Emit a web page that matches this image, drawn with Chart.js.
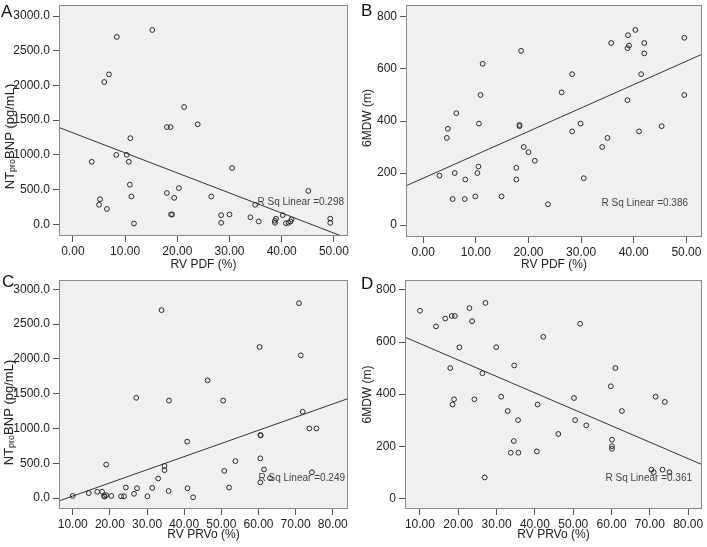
<!DOCTYPE html>
<html>
<head>
<meta charset="utf-8">
<script src="https://cdn.jsdelivr.net/npm/chart.js@4.4.0/dist/chart.umd.min.js"></script>
<style>
  body { margin: 0; background: #fff; width: 707px; height: 547px; position: relative; overflow: hidden; }
  canvas { position: absolute; }
  .letter { position: absolute; font: 17px/17px "Liberation Sans", Arial, sans-serif; color: #111; }
</style>
</head>
<body>
<canvas id="chartA" width="353" height="273" style="left:0;top:0"></canvas>
<canvas id="chartB" width="354" height="273" style="left:353px;top:0"></canvas>
<canvas id="chartC" width="353" height="274" style="left:0;top:273px"></canvas>
<canvas id="chartD" width="354" height="274" style="left:353px;top:273px"></canvas>
<div class="letter" style="left:1px;top:3px">A</div>
<div class="letter" style="left:361px;top:2px">B</div>
<div class="letter" style="left:2px;top:273px">C</div>
<div class="letter" style="left:361px;top:275px">D</div>
<script>
// A: RV PDF (%) vs NT-proBNP
const pdfA = [15.2, 8.4, 6.9, 6.0, 21.3, 23.9, 18.0, 18.7, 11.0, 8.3, 10.3, 3.6, 10.7, 30.5, 10.9,
    20.3, 18.0, 45.1, 5.2, 11.2, 19.4, 26.5, 5.0, 6.5, 34.9, 18.8, 19.0, 28.4, 30.0, 34.0, 35.6,
    28.4, 11.7, 38.9, 38.7, 38.7, 40.2, 40.8, 41.3, 41.7, 41.9, 49.3, 49.3];
const bnpA = [2800, 2700, 2160, 2050, 1690, 1440, 1400, 1400, 1240, 1000, 1000, 900, 900, 810, 570,
    520, 450, 480, 360, 400, 380, 400, 280, 220, 280, 140, 140, 130, 140, 100, 40,
    20, 10, 80, 50, 20, 130, 15, 20, 40, 70, 80, 20];

// B: RV PDF (%) vs 6MWD
const pdfB = [18.6, 11.3, 10.9, 6.3, 10.6, 18.3, 18.3, 4.7, 4.5, 19.1, 20.0, 21.2, 10.5, 17.7, 3.1,
    6.0, 10.3, 8.0, 17.7, 5.6, 7.9, 9.9, 14.9, 23.7, 40.3, 38.9, 49.6, 35.7, 42.0, 39.1, 38.8,
    42.0, 28.3, 41.4, 26.3, 49.6, 38.8, 29.9, 28.3, 41.0, 45.3, 35.0, 34.0, 30.5];
const mwdB = [670, 620, 500, 430, 390, 385, 380, 370, 335, 300, 280, 247, 225, 220, 190,
    200, 200, 175, 175, 100, 100, 110, 110, 80, 750, 730, 720, 700, 700, 690, 680,
    660, 580, 580, 510, 500, 480, 390, 360, 360, 380, 335, 300, 180];

// C: RV PRVo (%) vs NT-proBNP
const prvoC = [33.9, 27.1, 35.9, 40.8, 19.0, 34.7, 34.7, 33.0, 10.0, 14.3, 16.6, 17.9, 18.4, 18.6,
    19.0, 20.4, 23.0, 23.8, 24.3, 26.5, 27.3, 30.1, 31.4, 35.8, 40.9, 42.4, 70.9, 60.3, 71.4,
    46.3, 50.5, 71.9, 73.7, 75.6, 60.5, 60.6, 53.8, 60.5, 50.8, 61.5, 74.4, 63.1, 60.5, 52.1];
const bnpC = [2700, 1440, 1400, 810, 480, 460, 400, 280, 30, 70, 90, 90, 30, 20,
    40, 30, 25, 25, 150, 60, 140, 25, 145, 100, 140, 10, 2800, 2170, 2050,
    1690, 1400, 1240, 1000, 1000, 905, 900, 530, 570, 390, 410, 370, 285, 225, 150];

// D: RV PRVo (%) vs 6MWD
const prvoD = [10.0, 14.2, 16.6, 18.3, 19.1, 22.9, 27.1, 23.6, 20.3, 29.9, 34.6, 42.2, 17.9, 26.3,
    18.9, 18.5, 24.2, 31.2, 40.7, 32.9, 35.6, 34.5, 33.7, 35.7, 40.5, 26.9, 51.8, 61.0, 59.8,
    50.2, 71.5, 73.9, 62.7, 50.5, 53.4, 46.1, 60.1, 60.1, 60.1, 70.4, 71.0, 73.3, 75.1];
const mwdD = [720, 660, 690, 700, 700, 730, 750, 680, 580, 580, 510, 620, 500, 480,
    380, 360, 380, 390, 360, 335, 300, 220, 175, 175, 180, 80, 670, 500, 430,
    385, 390, 370, 335, 300, 280, 247, 225, 200, 190, 110, 100, 110, 100];

// ticks
const pdfTicks = [0, 10, 20, 30, 40, 50];
const prvoTicks = [10, 20, 30, 40, 50, 60, 70, 80];
const bnpTicks = [0, 500, 1000, 1500, 2000, 2500, 3000];
const mwdTicks = [0, 200, 400, 600, 800];

// linear fits (intercept, slope) and R squared
const fitA = [1317, -28.9];
const fitB = [180, 9.0];
const fitC = [-161, 18.9];
const fitD = [657, -6.31];
const rSquared = ['0.298', '0.386', '0.249', '0.361'];

const FONT = '"Liberation Sans", Arial, sans-serif';
const bnpTitle = [{ t: 'NT' }, { t: 'pro', sub: true }, { t: 'BNP (pg/mL)' }];
const mwdTitle = [{ t: '6MDW (m)' }];

const panelDeco = {
    id: 'panelDeco',
    beforeDraw(chart) {
        const { ctx, chartArea: a } = chart;
        ctx.save();
        ctx.fillStyle = '#f0f0f0';
        ctx.fillRect(a.left, a.top, a.right - a.left, a.bottom - a.top);
        ctx.restore();
    },
    afterDraw(chart, args, o) {
        const { ctx, chartArea: a } = chart;
        ctx.save();
        ctx.strokeStyle = '#8a8a8a';
        ctx.lineWidth = 1;
        ctx.strokeRect(Math.round(a.left) + 0.5, Math.round(a.top) + 0.5,
            Math.round(a.right - a.left) - 1, Math.round(a.bottom - a.top) - 1);

        ctx.fillStyle = '#444';
        ctx.font = '10px ' + FONT;
        ctx.textAlign = 'right';
        ctx.textBaseline = 'middle';
        ctx.fillText('R Sq Linear =' + o.r2, a.right - o.r2Dx, a.bottom - o.r2Dy);

        ctx.fillStyle = '#222';
        ctx.font = '12px ' + FONT;
        ctx.textAlign = 'center';
        ctx.fillText(o.xTitle, (a.left + a.right) / 2, o.xTitleY);

        // y title, with subscript pieces
        ctx.translate(o.yTitleX, (a.top + a.bottom) / 2 + o.yTitleDy);
        ctx.rotate(-Math.PI / 2);
        ctx.textAlign = 'left';
        const big = o.yTitleSize, small = Math.round(o.yTitleSize * 0.68);
        let w = 0;
        o.yTitle.forEach(s => {
            ctx.font = (s.sub ? small : big) + 'px ' + FONT;
            s.w = ctx.measureText(s.t).width;
            w += s.w;
        });
        let x = -w / 2;
        o.yTitle.forEach(s => {
            ctx.font = (s.sub ? small : big) + 'px ' + FONT;
            ctx.fillText(s.t, x, s.sub ? 3 : 0);
            x += s.w;
        });
        ctx.restore();
    }
};

function makeChart(id, p) {
    return new Chart(document.getElementById(id), {
        type: 'scatter',
        data: {
            datasets: [{
                data: p.xs.map((x, i) => ({ x: x, y: p.ys[i] })),
                pointStyle: 'circle',
                pointRadius: 2.4,
                borderWidth: 1,
                borderColor: '#2a2a2a',
                backgroundColor: 'rgba(0,0,0,0)'
            }, {
                data: [p.xMin, p.xMax].map(x => ({ x: x, y: p.fit[0] + p.fit[1] * x })),
                showLine: true,
                pointRadius: 0,
                borderWidth: 1,
                borderColor: '#333'
            }]
        },
        options: {
            responsive: false,
            animation: false,
            layout: { padding: { left: 0, top: p.top, right: p.w - p.right, bottom: 0 } },
            plugins: {
                legend: { display: false },
                tooltip: { enabled: false },
                panelDeco: {
                    r2: p.r2, r2Dx: p.r2Dx, r2Dy: p.r2Dy,
                    xTitle: p.xTitle, xTitleY: p.xTitleY,
                    yTitle: p.yTitle, yTitleX: p.yTitleX, yTitleDy: p.yTitleDy, yTitleSize: p.yTitleSize
                }
            },
            scales: {
                x: {
                    type: 'linear',
                    min: p.xMin,
                    max: p.xMax,
                    afterBuildTicks: s => { s.ticks = p.xTicks.map(v => ({ value: v })); },
                    afterFit: s => {
                        s.height = p.h - p.bottom;
                        s.paddingLeft = s.paddingRight = 0;
                    },
                    ticks: {
                        callback: v => v.toFixed(2),
                        color: '#222',
                        font: { family: FONT, size: 12 },
                        padding: 2,
                        maxRotation: 0,
                        autoSkip: false
                    },
                    grid: { drawOnChartArea: false, tickLength: 6, color: '#555' },
                    border: { display: false }
                },
                y: {
                    type: 'linear',
                    min: p.yMin,
                    max: p.yMax,
                    afterBuildTicks: s => { s.ticks = p.yTicks.map(v => ({ value: v })); },
                    afterFit: s => {
                        s.width = p.left;
                        s.paddingTop = s.paddingBottom = 0;
                    },
                    ticks: {
                        callback: v => v.toFixed(p.yDec),
                        color: '#222',
                        font: { family: FONT, size: 12 },
                        padding: 3,
                        autoSkip: false
                    },
                    grid: { drawOnChartArea: false, tickLength: 6, color: '#555' },
                    border: { display: false }
                }
            }
        },
        plugins: [panelDeco]
    });
}

makeChart('chartA', {
    xs: pdfA, ys: bnpA, fit: fitA, r2: rSquared[0],
    xMin: -2.67, xMax: 52.7, yMin: -170, yMax: 3160, xTicks: pdfTicks, yTicks: bnpTicks, yDec: 1,
    w: 353, h: 273, left: 59, top: 5, right: 349, bottom: 236,
    r2Dx: 4, r2Dy: 34, xTitle: 'RV PDF (%)', xTitleY: 265,
    yTitle: bnpTitle, yTitleX: 10, yTitleDy: 16, yTitleSize: 13
});
makeChart('chartB', {
    xs: pdfB, ys: mwdB, fit: fitB, r2: rSquared[1],
    xMin: -3.26, xMax: 52.96, yMin: -46, yMax: 846, xTicks: pdfTicks, yTicks: mwdTicks, yDec: 0,
    w: 354, h: 273, left: 53, top: 5, right: 351, bottom: 237,
    r2Dx: 14, r2Dy: 34, xTitle: 'RV PDF (%)', xTitleY: 265,
    yTitle: mwdTitle, yTitleX: 15, yTitleDy: -3, yTitleSize: 12
});
makeChart('chartC', {
    xs: prvoC, ys: bnpC, fit: fitC, r2: rSquared[2],
    xMin: 6.3, xMax: 84.1, yMin: -158, yMax: 3133, xTicks: prvoTicks, yTicks: bnpTicks, yDec: 1,
    w: 353, h: 274, left: 59, top: 7, right: 349, bottom: 236,
    r2Dx: 3, r2Dy: 31, xTitle: 'RV PRVo (%)', xTitleY: 262,
    yTitle: bnpTitle, yTitleX: 9, yTitleDy: 18, yTitleSize: 13
});
makeChart('chartD', {
    xs: prvoD, ys: mwdD, fit: fitD, r2: rSquared[3],
    xMin: 6.1, xMax: 83.6, yMin: -41, yMax: 838, xTicks: prvoTicks, yTicks: mwdTicks, yDec: 0,
    w: 354, h: 274, left: 52, top: 7, right: 351, bottom: 236,
    r2Dx: 10, r2Dy: 31, xTitle: 'RV PRVo (%)', xTitleY: 262,
    yTitle: mwdTitle, yTitleX: 15, yTitleDy: 0, yTitleSize: 12
});
</script>
</body>
</html>
